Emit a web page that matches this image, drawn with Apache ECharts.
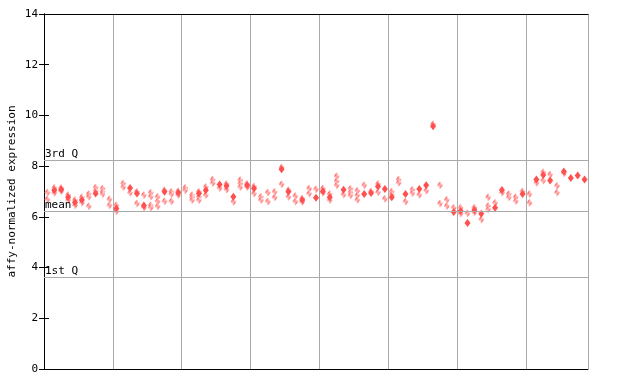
<!DOCTYPE html>
<html><head><meta charset="utf-8">
<script src="https://cdn.jsdelivr.net/npm/echarts@6/dist/echarts.min.js"></script>
<style>html,body{margin:0;padding:0;background:#fff}#c{width:640px;height:384px}</style>
</head><body><div id="c"></div>
<script>
// hatched (light) points per sample column
var hatchedVals = [
 [6.96,6.69],[7.15,6.95],[7.14,7.02],[6.86,6.66],[6.66,6.46],[6.77,6.57],[6.9,6.79,6.42],[7.16,7.02],[7.12,6.99,6.9],[6.69,6.46],
 [6.46,6.22],[7.32,7.18],[6.95],[6.99,6.53],[6.86,6.37],[6.95,6.8,6.46,6.37],[6.79,6.62,6.42],[7.05,6.62],[6.99,6.9,6.62],[7.01,6.86],
 [7.15,7.05],[6.86,6.77,6.66],[6.99,6.79,6.66],[7.18,6.86],[7.47,7.34],[7.14],[7.3,7.08],[6.6],[7.45,7.32,7.18],[7.3,7.18],
 [7.2,6.92],[6.79,6.66],[6.96,6.61],[6.99,6.77],[7.95,7.29],[7.05,6.79],[6.82,6.61],[6.72,6.6],[7.12,6.92],[7.09],
 [7.12,6.95],[6.9,6.66],[7.6,7.41,7.25],[6.88],[7.11,6.97,6.85],[7.03,6.85,6.67],[7.25],[7.0],[7.3,6.97],[6.71],
 [7.0,6.88],[7.47,7.35],[6.61],[7.07,6.94],[6.87],[7.03],[9.65],[7.25,6.53],[6.67,6.43],[6.36],
 [6.36,6.13],[6.14],[6.36,6.18],[5.9],[6.77,6.43,6.3],[6.56],[6.96],[6.9,6.77],[6.77,6.63],[7.0],
 [6.9,6.56],[7.35],[7.76,7.43],[7.67],[7.23,6.96],[7.72],[],[],[]
];
// solid points per sample column (null = none)
var solidVals = [
 null,7.05,7.08,6.77,6.57,6.66,null,6.92,null,null,
 6.33,null,7.14,6.92,6.45,null,null,6.99,null,6.95,
 null,null,6.92,7.05,null,7.28,7.22,6.79,null,7.25,
 7.12,null,null,null,7.88,6.99,null,6.66,null,6.75,
 7.01,6.77,null,7.07,null,null,6.9,6.94,7.2,7.1,
 6.77,null,6.9,null,7.1,7.25,9.57,null,null,6.19,
 6.23,5.76,6.27,6.12,null,6.36,7.06,null,null,6.9,
 null,7.47,7.65,7.43,null,7.79,7.53,7.63,7.47
];
var yTicks = [0,2,4,6,8,10,12,14];
var quartiles = [{name:'3rd Q', value:8.22},{name:'mean', value:6.22},{name:'1st Q', value:3.62}];
var nSamples = solidVals.length;

var RED = '#ff5050';
var cv = document.createElement('canvas'); cv.width = 2; cv.height = 2;
var cx = cv.getContext('2d');
cx.fillStyle = '#ffffff'; cx.fillRect(0,0,2,2);
cx.fillStyle = RED; cx.fillRect(0,0,1,1); cx.fillRect(1,1,1,1);

var hatchedData = [];
hatchedVals.forEach(function(arr, i){ arr.forEach(function(v){ hatchedData.push([i+0.5, v]); }); });
var solidData = [];
solidVals.forEach(function(v, i){ if (v !== null) solidData.push([i+0.5, v]); });

var font = 'DejaVu Sans Mono';
var chart = echarts.init(document.getElementById('c'), null, {renderer:'canvas'});
chart.setOption({
  animation:false,
  grid:{left:44, right:52, top:14, bottom:15, containLabel:false, outerBoundsMode:'none'},
  xAxis:[
   {type:'value', min:0, max:nSamples, interval:10, position:'bottom',
    axisLine:{show:true, lineStyle:{color:'#000', width:1}}, axisTick:{show:false}, axisLabel:{show:false},
    splitLine:{show:true, lineStyle:{color:'#aaaaaa', width:1}}},
   {type:'value', min:0, max:nSamples, position:'top',
    axisLine:{show:true, onZero:false, lineStyle:{color:'#000', width:1}}, axisTick:{show:false}, axisLabel:{show:false}, splitLine:{show:false}}
  ],
  yAxis:[
   {type:'value', min:yTicks[0], max:yTicks[yTicks.length-1], interval:2, position:'left',
    name:'affy-normalized expression', nameLocation:'middle', nameGap:26, nameRotate:90, nameMoveOverlap:false,
    nameTextStyle:{fontFamily:font, fontSize:11, color:'#000'},
    axisLine:{show:true, lineStyle:{color:'#000', width:1}},
    axisTick:{show:true, inside:true, length:5, lineStyle:{color:'#000'}},
    axisLabel:{fontFamily:font, fontSize:11, color:'#000', margin:6},
    splitLine:{show:false}},
   {type:'value', min:yTicks[0], max:yTicks[yTicks.length-1], interval:2, position:'right',
    axisLine:{show:true, lineStyle:{color:'#000', width:1}},
    axisTick:{show:true, inside:true, length:5, lineStyle:{color:'#000'}},
    axisLabel:{show:false}, splitLine:{show:false}}
  ],
  series:[
   {type:'scatter', data:[], silent:true,
    markLine:{silent:true, symbol:'none', animation:false,
      lineStyle:{color:'#aaaaaa', type:'solid', width:1},
      label:{show:true, position:'insideStartTop', distance:[1,1], fontFamily:font, fontSize:11, color:'#000',
        formatter:function(p){return p.name;}},
      data: quartiles.map(function(q){return {name:q.name, yAxis:q.value};})}},
   {type:'scatter', data:hatchedData, symbol:'diamond', symbolSize:[6,8],
    itemStyle:{color:{image:cv, repeat:'repeat'}, opacity:1}},
   {type:'scatter', data:solidData, symbol:'diamond', symbolSize:[6,8],
    itemStyle:{color:RED, opacity:1}}
  ]
});
</script></body></html>
